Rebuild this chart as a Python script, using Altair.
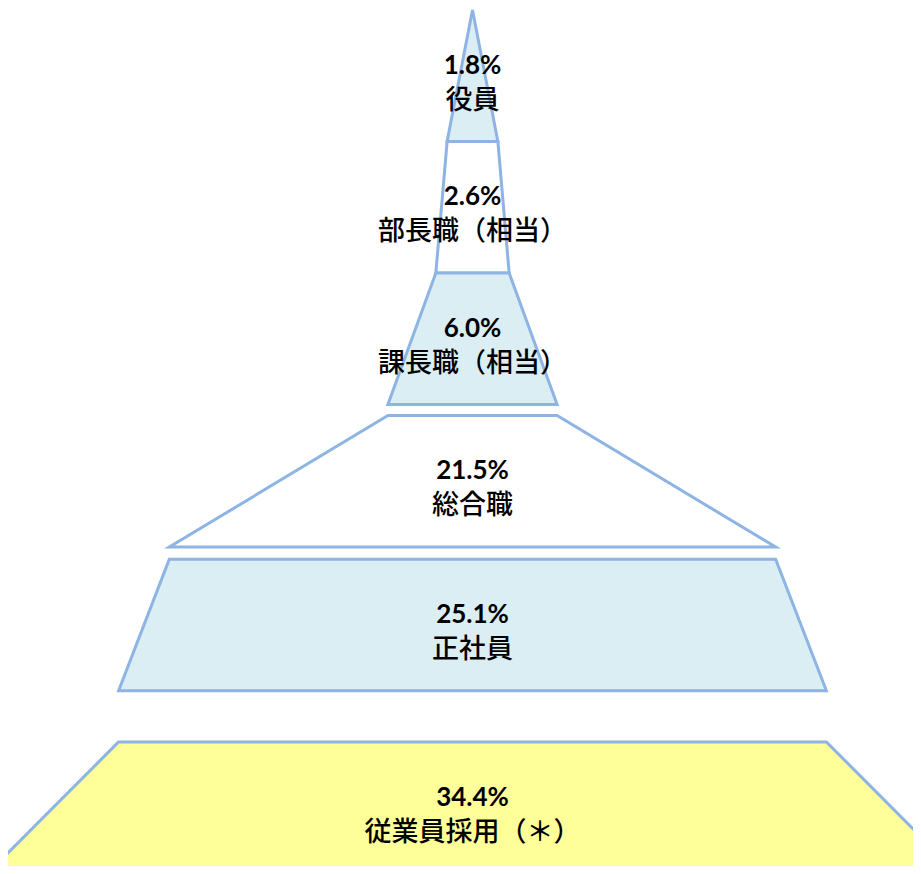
import altair as alt
import pandas as pd

# ---- data ----
tiers = ["役員", "部長職（相当）", "課長職（相当）", "総合職", "正社員", "従業員採用（＊）"]
shares = [1.8, 2.6, 6.0, 21.5, 25.1, 34.4]
share_labels = ["1.8%", "2.6%", "6.0%", "21.5%", "25.1%", "34.4%"]

# ---- layout / style ----
GAP_BEFORE = [0.0, 0.0, 0.0, 0.084, 0.092, 0.39]   # vertical gap before each tier (tier-height units)
FILLS = ["#DAEEF3", "#FFFFFF", "#DAEEF3", "#FFFFFF", "#DAEEF3", "#FFFF99"]
EDGE = "#8DB4E2"
W, H = 905, 858
PX_PER_PCT = 28.2
CENTER_PX = 464.5
TIER_PX = 131.5
TOP_PX = 2.0

rows, labs = [], []
pos = 0.0
for i, (t, s) in enumerate(zip(tiers, shares)):
    pos += GAP_BEFORE[i]
    prev = shares[i - 1] if i > 0 else 0.0
    rows.append(dict(tier=t, y=pos, left=-prev / 2, right=prev / 2))
    rows.append(dict(tier=t, y=pos + 1, left=-s / 2, right=s / 2))
    labs.append(dict(tier=t, y=pos + 0.5, c=0.0, pct=share_labels[i]))
    pos += 1.0

shapes = pd.DataFrame(rows)
labels = pd.DataFrame(labs)

xs = alt.Scale(domain=[-CENTER_PX / PX_PER_PCT, (W - CENTER_PX) / PX_PER_PCT], nice=False, zero=False)
ys = alt.Scale(domain=[-TOP_PX / TIER_PX, (H - TOP_PX) / TIER_PX], nice=False, zero=False, reverse=True)

area = alt.Chart(shapes).mark_area(
    orient="horizontal", stroke=EDGE, strokeWidth=3, opacity=1, fillOpacity=1
).encode(
    y=alt.Y("y:Q", scale=ys, axis=None),
    x=alt.X("left:Q", scale=xs, axis=None),
    x2="right:Q",
    detail="tier:N",
    color=alt.Color("tier:N", scale=alt.Scale(domain=tiers, range=FILLS), legend=None),
)

pct_text = alt.Chart(labels).mark_text(
    font="Lato", fontWeight="bold", fontSize=26, color="#000000", baseline="middle", dy=-10
).encode(
    x=alt.X("c:Q", scale=xs, axis=None),
    y=alt.Y("y:Q", scale=ys, axis=None),
    text="pct:N",
)

name_text = alt.Chart(labels).mark_text(
    font="Noto Sans CJK JP", fontWeight=500, fontSize=27, color="#000000", baseline="middle", dy=25
).encode(
    x=alt.X("c:Q", scale=xs, axis=None),
    y=alt.Y("y:Q", scale=ys, axis=None),
    text="tier:N",
)

chart = alt.layer(area, pct_text, name_text).properties(
    width=W, height=H, padding=0, autosize=alt.AutoSizeParams(type="none")
).configure_view(stroke=None)

chart.save("out.html", embed_options={"renderer": "svg", "actions": False})
